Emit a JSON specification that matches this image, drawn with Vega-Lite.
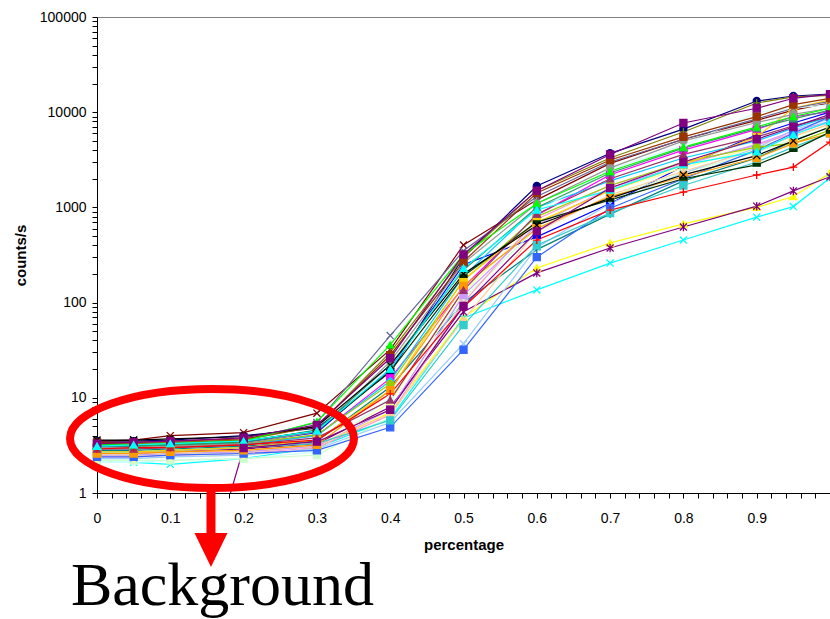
{
  "$schema": "https://vega.github.io/schema/vega-lite/v6.json",
  "width": 733,
  "height": 476,
  "autosize": {"type": "none"},
  "padding": {"left": 97, "top": 17, "right": 0, "bottom": 126},
  "background": "white",
  "config": {
    "view": {"stroke": "#808080", "strokeWidth": 1},
    "axis": {"domainColor": "black", "tickColor": "black", "labelColor": "black", "titleColor": "black", "labelFont": "Liberation Sans", "titleFont": "Liberation Sans", "grid": false, "tickSize": 5, "labelFontSize": 14, "titleFontSize": 15, "titleFontWeight": "bold", "labelOverlap": false, "labelFlush": false, "labelBound": false}
  },
  "datasets": {
    "series": [
      {"s":"S01","x":0,"y":3.5},{"s":"S01","x":0.05,"y":3.5},{"s":"S01","x":0.1,"y":3.6},{"s":"S01","x":0.2,"y":4.0},{"s":"S01","x":0.3,"y":4.8},{"s":"S01","x":0.4,"y":18.6},{"s":"S01","x":0.5,"y":300},{"s":"S01","x":0.6,"y":1680},{"s":"S01","x":0.7,"y":3700},{"s":"S01","x":0.8,"y":6650},{"s":"S01","x":0.9,"y":13100},{"s":"S01","x":0.95,"y":14800},{"s":"S01","x":1,"y":15500},
      {"s":"S02","x":0,"y":3.0},{"s":"S02","x":0.05,"y":3.0},{"s":"S02","x":0.1,"y":3.1},{"s":"S02","x":0.2,"y":3.3},{"s":"S02","x":0.3,"y":4.0},{"s":"S02","x":0.4,"y":16},{"s":"S02","x":0.5,"y":145},{"s":"S02","x":0.6,"y":830},{"s":"S02","x":0.7,"y":2200},{"s":"S02","x":0.8,"y":4000},{"s":"S02","x":0.9,"y":6600},{"s":"S02","x":0.95,"y":9000},{"s":"S02","x":1,"y":10100},
      {"s":"S03","x":0,"y":2.5},{"s":"S03","x":0.05,"y":2.5},{"s":"S03","x":0.1,"y":2.6},{"s":"S03","x":0.2,"y":2.7},{"s":"S03","x":0.3,"y":3.1},{"s":"S03","x":0.4,"y":7},{"s":"S03","x":0.5,"y":70},{"s":"S03","x":0.6,"y":231},{"s":"S03","x":0.7,"y":423},{"s":"S03","x":0.8,"y":670},{"s":"S03","x":0.9,"y":1000},{"s":"S03","x":0.95,"y":1300},{"s":"S03","x":1,"y":2300},
      {"s":"S04","x":0,"y":2.1},{"s":"S04","x":0.05,"y":2.1},{"s":"S04","x":0.1,"y":2.0},{"s":"S04","x":0.2,"y":2.3},{"s":"S04","x":0.3,"y":3.0},{"s":"S04","x":0.4,"y":6},{"s":"S04","x":0.5,"y":69},{"s":"S04","x":0.6,"y":136},{"s":"S04","x":0.7,"y":260},{"s":"S04","x":0.8,"y":455},{"s":"S04","x":0.9,"y":790},{"s":"S04","x":0.95,"y":1020},{"s":"S04","x":1,"y":2040},
      {"s":"S05","x":0,"y":2.6},{"s":"S05","x":0.05,"y":2.6},{"s":"S05","x":0.1,"y":2.7},{"s":"S05","x":0.2,"y":2.9},{"s":"S05","x":0.3,"y":3.3},{"s":"S05","x":0.4,"y":8},{"s":"S05","x":0.5,"y":80},{"s":"S05","x":0.6,"y":205},{"s":"S05","x":0.7,"y":375},{"s":"S05","x":0.8,"y":622},{"s":"S05","x":0.9,"y":1030},{"s":"S05","x":0.95,"y":1490},{"s":"S05","x":1,"y":2100},
      {"s":"S06","x":0,"y":3.5},{"s":"S06","x":0.05,"y":3.6},{"s":"S06","x":0.1,"y":4.0},{"s":"S06","x":0.2,"y":4.3},{"s":"S06","x":0.3,"y":6.9},{"s":"S06","x":0.4,"y":32},{"s":"S06","x":0.5,"y":403},{"s":"S06","x":0.6,"y":1200},{"s":"S06","x":0.7,"y":2900},{"s":"S06","x":0.8,"y":5200},{"s":"S06","x":0.9,"y":8200},{"s":"S06","x":0.95,"y":10500},{"s":"S06","x":1,"y":12500},
      {"s":"S07","x":0,"y":2.8},{"s":"S07","x":0.05,"y":2.8},{"s":"S07","x":0.1,"y":2.9},{"s":"S07","x":0.2,"y":3.1},{"s":"S07","x":0.3,"y":3.5},{"s":"S07","x":0.4,"y":13},{"s":"S07","x":0.5,"y":100},{"s":"S07","x":0.6,"y":360},{"s":"S07","x":0.7,"y":850},{"s":"S07","x":0.8,"y":1900},{"s":"S07","x":0.9,"y":3300},{"s":"S07","x":0.95,"y":5000},{"s":"S07","x":1,"y":7000},
      {"s":"S08","x":0,"y":3.1},{"s":"S08","x":0.05,"y":3.1},{"s":"S08","x":0.1,"y":3.2},{"s":"S08","x":0.2,"y":3.4},{"s":"S08","x":0.3,"y":4.3},{"s":"S08","x":0.4,"y":20},{"s":"S08","x":0.5,"y":250},{"s":"S08","x":0.6,"y":490},{"s":"S08","x":0.7,"y":1100},{"s":"S08","x":0.8,"y":2700},{"s":"S08","x":0.9,"y":5800},{"s":"S08","x":0.95,"y":7700},{"s":"S08","x":1,"y":10000},
      {"s":"S09","x":0,"y":2.9},{"s":"S09","x":0.05,"y":2.9},{"s":"S09","x":0.1,"y":3.0},{"s":"S09","x":0.2,"y":3.2},{"s":"S09","x":0.3,"y":4.0},{"s":"S09","x":0.4,"y":15},{"s":"S09","x":0.5,"y":190},{"s":"S09","x":0.6,"y":1000},{"s":"S09","x":0.7,"y":1900},{"s":"S09","x":0.8,"y":3300},{"s":"S09","x":0.9,"y":5000},{"s":"S09","x":0.95,"y":6800},{"s":"S09","x":1,"y":9000},
      {"s":"S10","x":0,"y":2.1},{"s":"S10","x":0.05,"y":2.1},{"s":"S10","x":0.1,"y":2.2},{"s":"S10","x":0.2,"y":2.3},{"s":"S10","x":0.3,"y":2.7},{"s":"S10","x":0.4,"y":10},{"s":"S10","x":0.5,"y":120},{"s":"S10","x":0.6,"y":900},{"s":"S10","x":0.7,"y":2500},{"s":"S10","x":0.8,"y":4500},{"s":"S10","x":0.9,"y":9900},{"s":"S10","x":0.95,"y":11000},{"s":"S10","x":1,"y":12000},
      {"s":"S11","x":0,"y":2.2},{"s":"S11","x":0.05,"y":2.2},{"s":"S11","x":0.1,"y":2.2},{"s":"S11","x":0.2,"y":2.3},{"s":"S11","x":0.3,"y":2.5},{"s":"S11","x":0.4,"y":6.2},{"s":"S11","x":0.5,"y":110},{"s":"S11","x":0.6,"y":600},{"s":"S11","x":0.7,"y":1300},{"s":"S11","x":0.8,"y":2300},{"s":"S11","x":0.9,"y":3800},{"s":"S11","x":0.95,"y":5200},{"s":"S11","x":1,"y":7000},
      {"s":"S12","x":0,"y":2.3},{"s":"S12","x":0.05,"y":2.3},{"s":"S12","x":0.1,"y":2.4},{"s":"S12","x":0.2,"y":2.5},{"s":"S12","x":0.3,"y":2.9},{"s":"S12","x":0.4,"y":9},{"s":"S12","x":0.5,"y":130},{"s":"S12","x":0.6,"y":700},{"s":"S12","x":0.7,"y":1500},{"s":"S12","x":0.8,"y":2600},{"s":"S12","x":0.9,"y":4300},{"s":"S12","x":0.95,"y":5500},{"s":"S12","x":1,"y":7500},
      {"s":"S13","x":0,"y":2.3},{"s":"S13","x":0.05,"y":2.3},{"s":"S13","x":0.1,"y":2.4},{"s":"S13","x":0.2,"y":2.5},{"s":"S13","x":0.3,"y":2.9},{"s":"S13","x":0.4,"y":5.5},{"s":"S13","x":0.5,"y":37},{"s":"S13","x":0.6,"y":380},{"s":"S13","x":0.7,"y":1100},{"s":"S13","x":0.8,"y":2300},{"s":"S13","x":0.9,"y":4200},{"s":"S13","x":0.95,"y":6500},{"s":"S13","x":1,"y":8500},
      {"s":"S14","x":0,"y":2.4},{"s":"S14","x":0.05,"y":2.4},{"s":"S14","x":0.1,"y":2.5},{"s":"S14","x":0.2,"y":2.6},{"s":"S14","x":0.3,"y":3.0},{"s":"S14","x":0.4,"y":6.6},{"s":"S14","x":0.5,"y":100},{"s":"S14","x":0.6,"y":750},{"s":"S14","x":0.7,"y":1700},{"s":"S14","x":0.8,"y":2900},{"s":"S14","x":0.9,"y":4500},{"s":"S14","x":0.95,"y":6000},{"s":"S14","x":1,"y":7800},
      {"s":"S15","x":0,"y":2.5},{"s":"S15","x":0.05,"y":2.5},{"s":"S15","x":0.1,"y":2.6},{"s":"S15","x":0.2,"y":2.7},{"s":"S15","x":0.3,"y":3.1},{"s":"S15","x":0.4,"y":7.5},{"s":"S15","x":0.5,"y":120},{"s":"S15","x":0.6,"y":650},{"s":"S15","x":0.7,"y":1600},{"s":"S15","x":0.8,"y":2800},{"s":"S15","x":0.9,"y":4600},{"s":"S15","x":0.95,"y":6300},{"s":"S15","x":1,"y":8000},
      {"s":"S16","x":0,"y":2.6},{"s":"S16","x":0.05,"y":2.6},{"s":"S16","x":0.1,"y":2.7},{"s":"S16","x":0.2,"y":2.8},{"s":"S16","x":0.3,"y":3.2},{"s":"S16","x":0.4,"y":6.8},{"s":"S16","x":0.5,"y":66},{"s":"S16","x":0.6,"y":560},{"s":"S16","x":0.7,"y":1350},{"s":"S16","x":0.8,"y":2400},{"s":"S16","x":0.9,"y":4000},{"s":"S16","x":0.95,"y":5600},{"s":"S16","x":1,"y":7500},
      {"s":"S17","x":0,"y":2.4},{"s":"S17","x":0.05,"y":2.4},{"s":"S17","x":0.1,"y":2.5},{"s":"S17","x":0.2,"y":2.6},{"s":"S17","x":0.3,"y":2.8},{"s":"S17","x":0.4,"y":4.9},{"s":"S17","x":0.5,"y":32},{"s":"S17","x":0.6,"y":300},{"s":"S17","x":0.7,"y":980},{"s":"S17","x":0.8,"y":2000},{"s":"S17","x":0.9,"y":4000},{"s":"S17","x":0.95,"y":6000},{"s":"S17","x":1,"y":9000},
      {"s":"S18","x":0,"y":2.7},{"s":"S18","x":0.05,"y":2.7},{"s":"S18","x":0.1,"y":2.8},{"s":"S18","x":0.2,"y":3.0},{"s":"S18","x":0.3,"y":3.3},{"s":"S18","x":0.4,"y":5.8},{"s":"S18","x":0.5,"y":58},{"s":"S18","x":0.6,"y":400},{"s":"S18","x":0.7,"y":870},{"s":"S18","x":0.8,"y":1700},{"s":"S18","x":0.9,"y":3000},{"s":"S18","x":0.95,"y":4300},{"s":"S18","x":1,"y":6000},
      {"s":"S19","x":0,"y":3.0},{"s":"S19","x":0.05,"y":3.0},{"s":"S19","x":0.1,"y":3.1},{"s":"S19","x":0.2,"y":3.3},{"s":"S19","x":0.3,"y":4.1},{"s":"S19","x":0.4,"y":14},{"s":"S19","x":0.5,"y":170},{"s":"S19","x":0.6,"y":800},{"s":"S19","x":0.7,"y":1700},{"s":"S19","x":0.8,"y":3000},{"s":"S19","x":0.9,"y":4300},{"s":"S19","x":0.95,"y":4700},{"s":"S19","x":1,"y":6500},
      {"s":"S20","x":0,"y":2.7},{"s":"S20","x":0.05,"y":2.7},{"s":"S20","x":0.1,"y":2.8},{"s":"S20","x":0.2,"y":3.0},{"s":"S20","x":0.3,"y":3.6},{"s":"S20","x":0.4,"y":12},{"s":"S20","x":0.5,"y":175},{"s":"S20","x":0.6,"y":700},{"s":"S20","x":0.7,"y":1500},{"s":"S20","x":0.8,"y":2800},{"s":"S20","x":0.9,"y":5500},{"s":"S20","x":0.95,"y":11000},{"s":"S20","x":1,"y":13500},
      {"s":"S21","x":0,"y":2.6},{"s":"S21","x":0.05,"y":2.6},{"s":"S21","x":0.1,"y":2.7},{"s":"S21","x":0.2,"y":2.8},{"s":"S21","x":0.3,"y":3.2},{"s":"S21","x":0.4,"y":12},{"s":"S21","x":0.5,"y":150},{"s":"S21","x":0.6,"y":600},{"s":"S21","x":0.7,"y":1300},{"s":"S21","x":0.8,"y":2100},{"s":"S21","x":0.9,"y":3300},{"s":"S21","x":0.95,"y":4700},{"s":"S21","x":1,"y":6000},
      {"s":"S22","x":0,"y":3.2},{"s":"S22","x":0.05,"y":3.3},{"s":"S22","x":0.1,"y":3.4},{"s":"S22","x":0.2,"y":3.6},{"s":"S22","x":0.3,"y":5.5},{"s":"S22","x":0.4,"y":45},{"s":"S22","x":0.5,"y":350},{"s":"S22","x":0.6,"y":1300},{"s":"S22","x":0.7,"y":3000},{"s":"S22","x":0.8,"y":5200},{"s":"S22","x":0.9,"y":8500},{"s":"S22","x":0.95,"y":11000},{"s":"S22","x":1,"y":13000},
      {"s":"S23","x":0,"y":3.0},{"s":"S23","x":0.05,"y":3.0},{"s":"S23","x":0.1,"y":3.1},{"s":"S23","x":0.2,"y":3.3},{"s":"S23","x":0.3,"y":4.4},{"s":"S23","x":0.4,"y":24},{"s":"S23","x":0.5,"y":260},{"s":"S23","x":0.6,"y":1100},{"s":"S23","x":0.7,"y":2600},{"s":"S23","x":0.8,"y":5000},{"s":"S23","x":0.9,"y":7800},{"s":"S23","x":0.95,"y":9500},{"s":"S23","x":1,"y":11000},
      {"s":"S24","x":0,"y":3.1},{"s":"S24","x":0.05,"y":3.1},{"s":"S24","x":0.1,"y":3.2},{"s":"S24","x":0.2,"y":3.4},{"s":"S24","x":0.3,"y":4.6},{"s":"S24","x":0.4,"y":22},{"s":"S24","x":0.5,"y":220},{"s":"S24","x":0.6,"y":1000},{"s":"S24","x":0.7,"y":2300},{"s":"S24","x":0.8,"y":4200},{"s":"S24","x":0.9,"y":6800},{"s":"S24","x":0.95,"y":8500},{"s":"S24","x":1,"y":10500},
      {"s":"S25","x":0,"y":3.2},{"s":"S25","x":0.05,"y":3.2},{"s":"S25","x":0.1,"y":3.3},{"s":"S25","x":0.2,"y":3.5},{"s":"S25","x":0.3,"y":4.5},{"s":"S25","x":0.4,"y":19},{"s":"S25","x":0.5,"y":190},{"s":"S25","x":0.6,"y":700},{"s":"S25","x":0.7,"y":1200},{"s":"S25","x":0.8,"y":2000},{"s":"S25","x":0.9,"y":2800},{"s":"S25","x":0.95,"y":4000},{"s":"S25","x":1,"y":6200},
      {"s":"S26","x":0,"y":3.3},{"s":"S26","x":0.05,"y":3.3},{"s":"S26","x":0.1,"y":3.4},{"s":"S26","x":0.2,"y":3.6},{"s":"S26","x":0.3,"y":5.0},{"s":"S26","x":0.4,"y":30},{"s":"S26","x":0.5,"y":300},{"s":"S26","x":0.6,"y":1500},{"s":"S26","x":0.7,"y":3300},{"s":"S26","x":0.8,"y":6200},{"s":"S26","x":0.9,"y":12500},{"s":"S26","x":0.95,"y":14500},{"s":"S26","x":1,"y":15000},
      {"s":"S27","x":0,"y":3.4},{"s":"S27","x":0.05,"y":3.4},{"s":"S27","x":0.1,"y":3.5},{"s":"S27","x":0.2,"y":3.7},{"s":"S27","x":0.3,"y":5.0},{"s":"S27","x":0.4,"y":28},{"s":"S27","x":0.5,"y":270},{"s":"S27","x":0.6,"y":1420},{"s":"S27","x":0.7,"y":3150},{"s":"S27","x":0.8,"y":5500},{"s":"S27","x":0.9,"y":9000},{"s":"S27","x":0.95,"y":12000},{"s":"S27","x":1,"y":14000},
      {"s":"S28","x":0,"y":2.9},{"s":"S28","x":0.05,"y":2.9},{"s":"S28","x":0.1,"y":3.0},{"s":"S28","x":0.2,"y":3.2},{"s":"S28","x":0.3,"y":3.8},{"s":"S28","x":0.4,"y":9.5},{"s":"S28","x":0.5,"y":135},{"s":"S28","x":0.6,"y":850},{"s":"S28","x":0.7,"y":2000},{"s":"S28","x":0.8,"y":3600},{"s":"S28","x":0.9,"y":5500},{"s":"S28","x":0.95,"y":7200},{"s":"S28","x":1,"y":9000},
      {"s":"S29","x":0,"y":3.6},{"s":"S29","x":0.05,"y":3.6},{"s":"S29","x":0.1,"y":3.7},{"s":"S29","x":0.2,"y":3.9},{"s":"S29","x":0.3,"y":5.0},{"s":"S29","x":0.4,"y":22},{"s":"S29","x":0.5,"y":200},{"s":"S29","x":0.6,"y":650},{"s":"S29","x":0.7,"y":1250},{"s":"S29","x":0.8,"y":2200},{"s":"S29","x":0.9,"y":3500},{"s":"S29","x":0.95,"y":5000},{"s":"S29","x":1,"y":7000},
      {"s":"S30","x":0,"y":2.9},{"s":"S30","x":0.05,"y":3.0},{"s":"S30","x":0.1,"y":3.0},{"s":"S30","x":0.2,"y":3.2},{"s":"S30","x":0.3,"y":3.6},{"s":"S30","x":0.4,"y":11},{"s":"S30","x":0.5,"y":90},{"s":"S30","x":0.6,"y":454},{"s":"S30","x":0.7,"y":935},{"s":"S30","x":0.8,"y":1450},{"s":"S30","x":0.9,"y":2190},{"s":"S30","x":0.95,"y":2650},{"s":"S30","x":1,"y":4860},
      {"s":"S31","x":0,"y":3.2},{"s":"S31","x":0.05,"y":3.2},{"s":"S31","x":0.1,"y":3.3},{"s":"S31","x":0.2,"y":3.5},{"s":"S31","x":0.3,"y":5.6},{"s":"S31","x":0.4,"y":36},{"s":"S31","x":0.5,"y":320},{"s":"S31","x":0.6,"y":1100},{"s":"S31","x":0.7,"y":2400},{"s":"S31","x":0.8,"y":4300},{"s":"S31","x":0.9,"y":7000},{"s":"S31","x":0.95,"y":9000},{"s":"S31","x":1,"y":11000},
      {"s":"S32","x":0,"y":3.3},{"s":"S32","x":0.05,"y":3.4},{"s":"S32","x":0.1,"y":3.5},{"s":"S32","x":0.2,"y":3.8},{"s":"S32","x":0.3,"y":5.2},{"s":"S32","x":0.4,"y":26},{"s":"S32","x":0.5,"y":320},{"s":"S32","x":0.6,"y":1500},{"s":"S32","x":0.7,"y":3600},{"s":"S32","x":0.8,"y":7700},{"s":"S32","x":0.9,"y":11000},{"s":"S32","x":0.95,"y":14000},{"s":"S32","x":1,"y":15500},
      {"s":"S33","x":0,"y":3.1},{"s":"S33","x":0.05,"y":3.2},{"s":"S33","x":0.1,"y":3.3},{"s":"S33","x":0.2,"y":3.5},{"s":"S33","x":0.3,"y":4.5},{"s":"S33","x":0.4,"y":20},{"s":"S33","x":0.5,"y":230},{"s":"S33","x":0.6,"y":940},{"s":"S33","x":0.7,"y":1520},{"s":"S33","x":0.8,"y":2800},{"s":"S33","x":0.9,"y":3850},{"s":"S33","x":0.95,"y":5800},{"s":"S33","x":1,"y":8000},
      {"s":"S34","x":0.15,"y":0.14},{"s":"S34","x":0.2,"y":2.97},{"s":"S34","x":0.3,"y":3.46},{"s":"S34","x":0.4,"y":7.5},{"s":"S34","x":0.5,"y":92},{"s":"S34","x":0.6,"y":560},{"s":"S34","x":0.7,"y":1600},{"s":"S34","x":0.8,"y":3000},{"s":"S34","x":0.9,"y":5200},{"s":"S34","x":0.95,"y":7000},{"s":"S34","x":1,"y":9500}
    ],
    "note": [{"label": "Background"}]
  },
  "layer": [
    {
      "data": {"name": "series"},
      "mark": {"type": "line", "strokeWidth": 1.2, "clip": true},
      "encoding": {
        "x": {"field": "x", "type": "quantitative", "scale": {"domain": [0, 1], "nice": false, "zero": false},
          "axis": {"title": "percentage", "values": [0,0.02,0.04,0.06,0.08,0.1,0.12,0.14,0.16,0.18,0.2,0.22,0.24,0.26,0.28,0.3,0.32,0.34,0.36,0.38,0.4,0.42,0.44,0.46,0.48,0.5,0.52,0.54,0.56,0.58,0.6,0.62,0.64,0.66,0.68,0.7,0.72,0.74,0.76,0.78,0.8,0.82,0.84,0.86,0.88,0.9,0.92,0.94,0.96,0.98],
            "format": "~g", "labelExpr": "abs(datum.value*10 - round(datum.value*10)) < 0.001 ? datum.label : ''", "labelPadding": 13, "titlePadding": 12}},
        "y": {"field": "y", "type": "quantitative", "scale": {"type": "log", "domain": [1, 100000], "nice": false},
          "axis": {"title": "counts/s", "values": [1,2,3,4,5,6,7,8,9,10,20,30,40,50,60,70,80,90,100,200,300,400,500,600,700,800,900,1000,2000,3000,4000,5000,6000,7000,8000,9000,10000,20000,30000,40000,50000,60000,70000,80000,90000,100000],
            "labelExpr": "abs(log(datum.value)/LN10 - round(log(datum.value)/LN10)) < 0.0001 ? format(datum.value, 'd') : ''", "labelPadding": 6, "titlePadding": 11}},
        "detail": {"field": "s"},
        "color": {"field": "s", "type": "nominal", "legend": null,
          "scale": {"domain": ["S01","S02","S03","S04","S05","S06","S07","S08","S09","S10","S11","S12","S13","S14","S15","S16","S17","S18","S19","S20","S21","S22","S23","S24","S25","S26","S27","S28","S29","S30","S31","S32","S33","S34"],
            "range": ["#000080","#FF00FF","#FFFF00","#00FFFF","#800080","#800000","#008080","#0000FF","#00CCFF","#CCFFFF","#CCFFCC","#FFFF99","#99CCFF","#FF99CC","#CC99FF","#FFCC99","#3366FF","#33CCCC","#99CC00","#FFCC00","#FF9900","#666699","#969696","#339966","#003300","#808000","#993300","#993366","#000000","#FF0000","#00FF00","#800080","#00FFFF","#800080"]}}
      }
    },
    {
      "data": {"name": "series"},
      "transform": [{"filter": "datum.y >= 1"}],
      "mark": {"type": "point", "filled": true, "size": 50, "strokeWidth": 1.3, "opacity": 1},
      "encoding": {
        "x": {"field": "x", "type": "quantitative",
          "axis": {"title": "percentage", "values": [0,0.02,0.04,0.06,0.08,0.1,0.12,0.14,0.16,0.18,0.2,0.22,0.24,0.26,0.28,0.3,0.32,0.34,0.36,0.38,0.4,0.42,0.44,0.46,0.48,0.5,0.52,0.54,0.56,0.58,0.6,0.62,0.64,0.66,0.68,0.7,0.72,0.74,0.76,0.78,0.8,0.82,0.84,0.86,0.88,0.9,0.92,0.94,0.96,0.98],
            "format": "~g", "labelExpr": "abs(datum.value*10 - round(datum.value*10)) < 0.001 ? datum.label : ''", "labelPadding": 13, "titlePadding": 12}},
        "y": {"field": "y", "type": "quantitative",
          "axis": {"title": "counts/s", "values": [1,2,3,4,5,6,7,8,9,10,20,30,40,50,60,70,80,90,100,200,300,400,500,600,700,800,900,1000,2000,3000,4000,5000,6000,7000,8000,9000,10000,20000,30000,40000,50000,60000,70000,80000,90000,100000],
            "labelExpr": "abs(log(datum.value)/LN10 - round(log(datum.value)/LN10)) < 0.0001 ? format(datum.value, 'd') : ''", "labelPadding": 6, "titlePadding": 11}},
        "fill": {"field": "s", "type": "nominal", "legend": null,
          "scale": {"domain": ["S01","S02","S03","S04","S05","S06","S07","S08","S09","S10","S11","S12","S13","S14","S15","S16","S17","S18","S19","S20","S21","S22","S23","S24","S25","S26","S27","S28","S29","S30","S31","S32","S33","S34"],
            "range": ["#000080","#FF00FF","#FFFF00","#00FFFF","#800080","#800000","#008080","#0000FF","#00CCFF","#CCFFFF","#CCFFCC","#FFFF99","#99CCFF","#FF99CC","#CC99FF","#FFCC99","#3366FF","#33CCCC","#99CC00","#FFCC00","#FF9900","#666699","#969696","#339966","#003300","#808000","#993300","#993366","#000000","#FF0000","#00FF00","#800080","#00FFFF","#800080"]}},
        "stroke": {"field": "s", "type": "nominal", "legend": null,
          "scale": {"domain": ["S01","S02","S03","S04","S05","S06","S07","S08","S09","S10","S11","S12","S13","S14","S15","S16","S17","S18","S19","S20","S21","S22","S23","S24","S25","S26","S27","S28","S29","S30","S31","S32","S33","S34"],
            "range": ["#000080","#FF00FF","#FFFF00","#00FFFF","#800080","#800000","#008080","#0000FF","#00CCFF","#CCFFFF","#CCFFCC","#FFFF99","#99CCFF","#FF99CC","#CC99FF","#FFCC99","#3366FF","#33CCCC","#99CC00","#FFCC00","#FF9900","#666699","#969696","#339966","#003300","#808000","#993300","#993366","#000000","#FF0000","#00FF00","#800080","#00FFFF","#800080"]}},
        "shape": {"field": "s", "type": "nominal", "legend": null,
          "scale": {"domain": ["S01","S02","S03","S04","S05","S06","S07","S08","S09","S10","S11","S12","S13","S14","S15","S16","S17","S18","S19","S20","S21","S22","S23","S24","S25","S26","S27","S28","S29","S30","S31","S32","S33","S34"],
            "range": ["circle","square","triangle-up","M-1,-1L1,1M-1,1L1,-1","M-1,-1L1,1M-1,1L1,-1M0,-1.2L0,1.2","M-1,-1L1,1M-1,1L1,-1","M-1.1,0L1.1,0M0,-1.1L0,1.1","M-1,-0.35L1,-0.35L1,0.35L-1,0.35Z","diamond","diamond","square","triangle-up","M-1,-1L1,1M-1,1L1,-1","M-1,-1L1,1M-1,1L1,-1","square","triangle-up","square","square","circle","square","square","M-1,-1L1,1M-1,1L1,-1","circle","triangle-up","M-1,-0.35L1,-0.35L1,0.35L-1,0.35Z","M-1.1,0L1.1,0M0,-1.1L0,1.1","square","triangle-up","M-1,-1L1,1M-1,1L1,-1","M-1.1,0L1.1,0M0,-1.1L0,1.1","triangle-up","square","triangle-up","square"]}}
      }
    },
    {
      "data": {"name": "note"},
      "mark": {"type": "point", "shape": "M-1,0C-1,-0.1928,-0.5523,-0.349,0,-0.349C0.5523,-0.349,1,-0.1928,1,0C1,0.1928,0.5523,0.349,0,0.349C-0.5523,0.349,-1,0.1928,-1,0Z", "size": 80656, "filled": false, "color": "#FF0000", "stroke": "#FF0000", "strokeWidth": 8, "opacity": 1},
      "encoding": {
        "x": {"datum": 0.1569, "type": "quantitative",
          "axis": {"title": "percentage", "values": [0,0.02,0.04,0.06,0.08,0.1,0.12,0.14,0.16,0.18,0.2,0.22,0.24,0.26,0.28,0.3,0.32,0.34,0.36,0.38,0.4,0.42,0.44,0.46,0.48,0.5,0.52,0.54,0.56,0.58,0.6,0.62,0.64,0.66,0.68,0.7,0.72,0.74,0.76,0.78,0.8,0.82,0.84,0.86,0.88,0.9,0.92,0.94,0.96,0.98],
            "format": "~g", "labelExpr": "abs(datum.value*10 - round(datum.value*10)) < 0.001 ? datum.label : ''", "labelPadding": 13, "titlePadding": 12}},
        "y": {"datum": 3.74, "type": "quantitative",
          "axis": {"title": "counts/s", "values": [1,2,3,4,5,6,7,8,9,10,20,30,40,50,60,70,80,90,100,200,300,400,500,600,700,800,900,1000,2000,3000,4000,5000,6000,7000,8000,9000,10000,20000,30000,40000,50000,60000,70000,80000,90000,100000],
            "labelExpr": "abs(log(datum.value)/LN10 - round(log(datum.value)/LN10)) < 0.0001 ? format(datum.value, 'd') : ''", "labelPadding": 6, "titlePadding": 11}}
      }
    },
    {
      "data": {"name": "note"},
      "mark": {"type": "rule", "color": "#FF0000", "strokeWidth": 9},
      "encoding": {
        "x": {"datum": 0.1555, "type": "quantitative",
          "axis": {"title": "percentage", "values": [0,0.02,0.04,0.06,0.08,0.1,0.12,0.14,0.16,0.18,0.2,0.22,0.24,0.26,0.28,0.3,0.32,0.34,0.36,0.38,0.4,0.42,0.44,0.46,0.48,0.5,0.52,0.54,0.56,0.58,0.6,0.62,0.64,0.66,0.68,0.7,0.72,0.74,0.76,0.78,0.8,0.82,0.84,0.86,0.88,0.9,0.92,0.94,0.96,0.98],
            "format": "~g", "labelExpr": "abs(datum.value*10 - round(datum.value*10)) < 0.001 ? datum.label : ''", "labelPadding": 13, "titlePadding": 12}},
        "y": {"datum": 1.1, "type": "quantitative",
          "axis": {"title": "counts/s", "values": [1,2,3,4,5,6,7,8,9,10,20,30,40,50,60,70,80,90,100,200,300,400,500,600,700,800,900,1000,2000,3000,4000,5000,6000,7000,8000,9000,10000,20000,30000,40000,50000,60000,70000,80000,90000,100000],
            "labelExpr": "abs(log(datum.value)/LN10 - round(log(datum.value)/LN10)) < 0.0001 ? format(datum.value, 'd') : ''", "labelPadding": 6, "titlePadding": 11}},
        "y2": {"datum": 0.353}
      }
    },
    {
      "data": {"name": "note"},
      "mark": {"type": "point", "shape": "M-0.97,-1L0.97,-1L0,1Z", "size": 1156, "filled": true, "color": "#FF0000", "strokeWidth": 0, "opacity": 1},
      "encoding": {
        "x": {"datum": 0.1555, "type": "quantitative",
          "axis": {"title": "percentage", "values": [0,0.02,0.04,0.06,0.08,0.1,0.12,0.14,0.16,0.18,0.2,0.22,0.24,0.26,0.28,0.3,0.32,0.34,0.36,0.38,0.4,0.42,0.44,0.46,0.48,0.5,0.52,0.54,0.56,0.58,0.6,0.62,0.64,0.66,0.68,0.7,0.72,0.74,0.76,0.78,0.8,0.82,0.84,0.86,0.88,0.9,0.92,0.94,0.96,0.98],
            "format": "~g", "labelExpr": "abs(datum.value*10 - round(datum.value*10)) < 0.001 ? datum.label : ''", "labelPadding": 13, "titlePadding": 12}},
        "y": {"datum": 0.252, "type": "quantitative",
          "axis": {"title": "counts/s", "values": [1,2,3,4,5,6,7,8,9,10,20,30,40,50,60,70,80,90,100,200,300,400,500,600,700,800,900,1000,2000,3000,4000,5000,6000,7000,8000,9000,10000,20000,30000,40000,50000,60000,70000,80000,90000,100000],
            "labelExpr": "abs(log(datum.value)/LN10 - round(log(datum.value)/LN10)) < 0.0001 ? format(datum.value, 'd') : ''", "labelPadding": 6, "titlePadding": 11}}
      }
    },
    {
      "data": {"name": "note"},
      "mark": {"type": "text", "font": "Liberation Serif", "fontSize": 62, "align": "left", "baseline": "alphabetic", "color": "black"},
      "encoding": {
        "x": {"datum": -0.0355, "type": "quantitative",
          "axis": {"title": "percentage", "values": [0,0.02,0.04,0.06,0.08,0.1,0.12,0.14,0.16,0.18,0.2,0.22,0.24,0.26,0.28,0.3,0.32,0.34,0.36,0.38,0.4,0.42,0.44,0.46,0.48,0.5,0.52,0.54,0.56,0.58,0.6,0.62,0.64,0.66,0.68,0.7,0.72,0.74,0.76,0.78,0.8,0.82,0.84,0.86,0.88,0.9,0.92,0.94,0.96,0.98],
            "format": "~g", "labelExpr": "abs(datum.value*10 - round(datum.value*10)) < 0.001 ? datum.label : ''", "labelPadding": 13, "titlePadding": 12}},
        "y": {"datum": 0.0666, "type": "quantitative",
          "axis": {"title": "counts/s", "values": [1,2,3,4,5,6,7,8,9,10,20,30,40,50,60,70,80,90,100,200,300,400,500,600,700,800,900,1000,2000,3000,4000,5000,6000,7000,8000,9000,10000,20000,30000,40000,50000,60000,70000,80000,90000,100000],
            "labelExpr": "abs(log(datum.value)/LN10 - round(log(datum.value)/LN10)) < 0.0001 ? format(datum.value, 'd') : ''", "labelPadding": 6, "titlePadding": 11}},
        "text": {"field": "label"}
      }
    }
  ]
}
